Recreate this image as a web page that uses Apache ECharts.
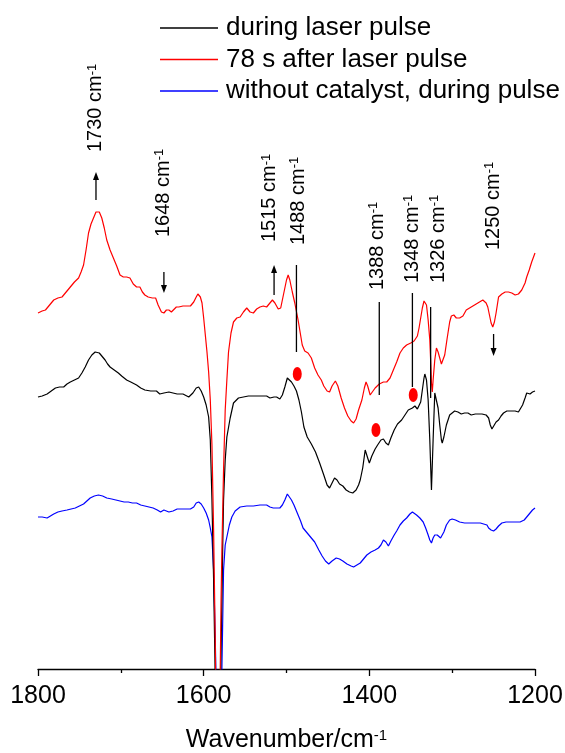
<!DOCTYPE html>
<html>
<head>
<meta charset="utf-8">
<script src="https://cdn.jsdelivr.net/npm/echarts@6/dist/echarts.min.js"></script>
<style>
  html, body { margin: 0; padding: 0; background: #fff; }
  #chart { width: 565px; height: 753px; }
</style>
</head>
<body>
<div id="chart"></div>
<script>
// Difference IR spectra: [wavenumber (cm-1), absorbance change (arb. units)]
const duringPulse = [
  [1800,2],[1795,3],[1789,5],[1784,8],[1779,11],[1774,12],[1769,12],[1765,15],[1761,17],[1756,19],
  [1751,21],[1747,26],[1743,32],[1739,39],[1735,44],[1731,47],[1729,48],[1726,46],[1723,43],[1719,39],
  [1716,35],[1713,32],[1708,29],[1703,26],[1699,23],[1693,19],[1688,17],[1681,14],[1676,11],[1671,9],
  [1664,8],[1657,8],[1653,5],[1648,6],[1642,7],[1637,6],[1632,5],[1625,5],[1618,2],[1613,6],
  [1609,11],[1606,12],[1603,8],[1600,2],[1597,-6],[1594,-18],[1592,-41],[1590,-101],[1588,-181],[1586,-281],
  [1583,-451],[1581,-361],[1580,-301],[1578,-201],[1577,-148],[1576,-101],[1574,-61],[1572,-38],[1568,-19],[1564,-4],
  [1558,1],[1552,2],[1546,3],[1540,3],[1532,3],[1524,3],[1520,1],[1518,1],[1515,2],[1512,2],
  [1510,0],[1508,0],[1505,4],[1502,12],[1499,21],[1497,22],[1494,17],[1491,13],[1488,8],[1485,-1],
  [1482,-13],[1479,-28],[1475,-38],[1470,-45],[1465,-53],[1460,-64],[1455,-76],[1451,-86],[1448,-89],[1445,-84],
  [1442,-79],[1439,-81],[1436,-85],[1432,-87],[1428,-91],[1424,-93],[1420,-94],[1416,-91],[1413,-86],[1411,-81],
  [1408,-69],[1405,-51],[1402,-59],[1400,-64],[1397,-57],[1393,-50],[1390,-46],[1386,-41],[1383,-40],[1380,-44],
  [1377,-46],[1374,-39],[1370,-31],[1366,-25],[1361,-21],[1357,-16],[1353,-11],[1351,-10],[1348,-9],[1345,-7],
  [1342,-10],[1340,-11],[1338,-3],[1336,9],[1334,21],[1333,25],[1331,19],[1329,-1],[1327,-41],[1325,-91],
  [1323,-41],[1321,6],[1319,4],[1317,-9],[1315,-26],[1313,-41],[1312,-44],[1310,-38],[1307,-26],[1303,-16],
  [1300,-14],[1297,-12],[1293,-13],[1289,-15],[1285,-14],[1281,-14],[1277,-16],[1272,-15],[1268,-15],[1264,-15],
  [1259,-16],[1256,-19],[1254,-26],[1252,-30],[1250,-29],[1247,-23],[1244,-21],[1241,-17],[1238,-14],[1234,-12],
  [1228,-12],[1224,-12],[1220,-13],[1218,-12],[1215,-6],[1212,1],[1210,6],[1208,5],[1206,5],[1203,7],[1200,8]
];

const afterPulse78s = [
  [1800,-4],[1795,-2],[1791,-1],[1786,4],[1781,9],[1776,11],[1771,12],[1766,17],[1761,22],[1756,27],
  [1751,31],[1748,37],[1745,44],[1742,59],[1739,76],[1736,85],[1733,91],[1730,97],[1728,99],[1726,97],
  [1723,91],[1720,81],[1717,69],[1713,59],[1709,51],[1705,43],[1701,34],[1697,32],[1693,32],[1689,31],
  [1685,25],[1681,22],[1677,22],[1674,17],[1671,14],[1667,12],[1662,11],[1658,11],[1655,4],[1651,-3],
  [1648,-4],[1645,-1],[1642,-1],[1639,-3],[1637,-1],[1633,2],[1630,2],[1625,3],[1616,3],[1612,7],
  [1609,12],[1607,15],[1604,12],[1602,6],[1600,-9],[1598,-26],[1596,-43],[1594,-63],[1592,-91],[1590,-136],
  [1588,-221],[1586,-331],[1584,-491],[1583,-541],[1581,-451],[1580,-361],[1579,-291],[1578,-241],[1576,-161],[1574,-101],
  [1572,-71],[1570,-43],[1567,-24],[1564,-13],[1560,-9],[1556,-8],[1552,-3],[1548,1],[1544,-3],[1540,-4],
  [1536,0],[1532,2],[1528,3],[1524,2],[1520,6],[1517,9],[1514,6],[1510,0],[1507,1],[1503,17],
  [1500,29],[1498,34],[1496,29],[1493,17],[1490,6],[1486,-11],[1484,-21],[1481,-36],[1478,-42],[1474,-44],
  [1470,-49],[1466,-59],[1462,-66],[1458,-71],[1455,-77],[1451,-82],[1448,-83],[1445,-77],[1441,-72],[1438,-77],
  [1434,-89],[1430,-99],[1426,-107],[1422,-112],[1419,-114],[1416,-110],[1413,-101],[1409,-91],[1406,-79],[1404,-73],
  [1402,-77],[1399,-86],[1397,-84],[1393,-79],[1388,-75],[1383,-73],[1379,-73],[1375,-69],[1371,-61],[1367,-53],
  [1363,-44],[1359,-39],[1355,-36],[1350,-34],[1346,-32],[1342,-27],[1340,-19],[1338,-9],[1336,1],[1334,8],
  [1332,9],[1331,4],[1329,-11],[1327,-31],[1326,-51],[1325,-74],[1324,-83],[1323,-71],[1321,-51],[1319,-39],
  [1317,-43],[1315,-49],[1313,-55],[1311,-55],[1309,-46],[1306,-29],[1303,-13],[1301,-7],[1298,-6],[1295,-9],
  [1291,-9],[1287,-7],[1283,-1],[1279,1],[1275,3],[1271,5],[1267,7],[1263,9],[1261,9],[1259,6],
  [1257,2],[1255,-6],[1253,-14],[1251,-18],[1249,-13],[1247,-4],[1244,12],[1240,15],[1236,17],[1232,17],
  [1228,16],[1224,14],[1220,15],[1216,19],[1212,26],[1210,32],[1207,39],[1204,47],[1200,56]
];

const noCatalyst = [
  [1800,2],[1795,2],[1789,1],[1785,3],[1781,5],[1776,7],[1771,8],[1765,9],[1760,10],[1755,11],
  [1750,13],[1745,15],[1741,18],[1737,21],[1732,23],[1727,24],[1722,23],[1717,21],[1711,20],[1706,19],
  [1701,18],[1696,17],[1691,17],[1686,16],[1681,16],[1676,14],[1671,13],[1666,12],[1661,11],[1656,9],
  [1652,7],[1648,9],[1645,8],[1642,7],[1637,8],[1632,10],[1627,10],[1621,10],[1616,10],[1612,12],
  [1609,16],[1606,17],[1603,15],[1600,11],[1597,6],[1594,-1],[1592,-9],[1590,-18],[1588,-51],[1586,-121],
  [1584,-201],[1581,-281],[1579,-201],[1578,-150],[1577,-101],[1576,-51],[1574,-26],[1572,-18],[1569,-6],[1566,2],
  [1562,8],[1556,12],[1548,13],[1540,13],[1532,14],[1524,14],[1520,12],[1516,11],[1512,11],[1508,11],
  [1505,14],[1502,19],[1499,25],[1497,24],[1494,19],[1491,14],[1487,6],[1483,-2],[1480,-9],[1475,-14],
  [1470,-19],[1466,-23],[1461,-31],[1457,-37],[1453,-42],[1449,-45],[1445,-42],[1440,-39],[1436,-40],[1432,-42],
  [1427,-45],[1422,-47],[1419,-48],[1415,-46],[1411,-44],[1407,-40],[1403,-36],[1398,-33],[1393,-31],[1389,-29],
  [1386,-26],[1383,-21],[1380,-23],[1377,-27],[1374,-22],[1370,-16],[1367,-12],[1363,-6],[1359,-2],[1355,1],
  [1351,5],[1348,7],[1346,6],[1343,4],[1339,1],[1335,-3],[1332,-9],[1329,-16],[1327,-21],[1325,-24],
  [1323,-19],[1321,-16],[1318,-16],[1316,-18],[1314,-19],[1312,-18],[1310,-13],[1307,-6],[1303,-1],[1300,0],
  [1296,-1],[1291,-3],[1285,-4],[1278,-4],[1272,-4],[1266,-4],[1262,-5],[1258,-6],[1256,-9],[1253,-11],
  [1250,-12],[1247,-10],[1244,-7],[1240,-4],[1235,-3],[1228,-3],[1222,-3],[1218,-3],[1213,-1],[1210,2],
  [1206,6],[1203,9],[1200,11]
];

// Vertical offsets used to stack the three spectra
const stackOffset = { after: 360, during: 270, without: 150 };

// Marked bands (red dots) on the stacked plot
const dotWn = [1487, 1392, 1347];
const dotY = [295, 239, 274];

// Band annotations
const bandWn = [1730, 1648, 1515, 1488, 1388, 1348, 1326, 1250];
const bandKind = ['up', 'down', 'up', 'line', 'line', 'line', 'line', 'down'];
const bandFrom = [469, 397, 374, 404, 367, 376, 362, 335];
const bandTo = [497, 376, 404, 317, 274, 282, 271, 313];
const bandTextWn = [1730, 1648, 1520, 1486, 1390, 1348, 1317, 1250];
const bandTextY = [517, 432, 427, 424, 379, 386, 386, 419];

const xTicks = { min: 1200, max: 1800, step: 200 };

const FONT = 'Liberation Sans, Arial, Helvetica, sans-serif';

function shift(trace, dy) {
  return trace.map(p => [p[0], p[1] + dy]);
}

const chart = echarts.init(document.getElementById('chart'), null, { renderer: 'canvas' });

const lineBase = {
  type: 'line',
  symbol: 'none',
  smooth: false,
  animation: false,
  clip: true,
  z: 2
};

const bandData = bandWn.map((w, i) => [w, bandFrom[i], bandTo[i], bandTextWn[i], bandTextY[i], i]);

const legendNames = ['during laser pulse', '78 s after laser pulse', 'without catalyst, during pulse'];

const option = {
  animation: false,
  backgroundColor: '#ffffff',
  grid: { left: 38, right: 30, top: 69, bottom: 84, containLabel: false, outerBoundsMode: 'none' },
  legend: {
    orient: 'vertical',
    left: 160,
    top: 14,
    padding: 0,
    itemWidth: 58,
    itemHeight: 1.3,
    itemGap: 3.5,
    icon: 'rect',
    data: legendNames.map(n => ({ name: n, icon: 'rect' })),
    textStyle: { fontFamily: FONT, fontSize: 26, color: '#000', lineHeight: 28, padding: [0, 0, 0, 3] },
    selectedMode: false
  },
  xAxis: {
    type: 'value',
    inverse: true,
    min: xTicks.min,
    max: xTicks.max,
    interval: xTicks.step,
    splitLine: { show: false },
    axisLine: { show: true, onZero: false, lineStyle: { color: '#000', width: 1.3 } },
    axisTick: { show: true, length: 7, lineStyle: { color: '#000', width: 1.3 } },
    minorTick: { show: true, splitNumber: 2, length: 4, lineStyle: { color: '#000', width: 1.3 } },
    axisLabel: {
      fontFamily: FONT, fontSize: 25, color: '#000', margin: 15,
      formatter: v => String(v)
    },
    name: 'Wavenumber/cm{s|-1}',
    nameLocation: 'middle',
    nameGap: 59,
    nameTextStyle: {
      fontFamily: FONT, fontSize: 25, color: '#000',
      rich: { s: { fontFamily: FONT, fontSize: 15, color: '#000', verticalAlign: 'top', lineHeight: 15 } }
    }
  },
  yAxis: {
    type: 'value',
    show: false,
    min: 0,
    max: 600
  },
  series: [
    Object.assign({}, lineBase, {
      name: 'without catalyst, during pulse',
      data: shift(noCatalyst, stackOffset.without),
      lineStyle: { color: '#0000ff', width: 1.2 },
      itemStyle: { color: '#0000ff' }
    }),
    Object.assign({}, lineBase, {
      name: 'during laser pulse',
      data: shift(duringPulse, stackOffset.during),
      lineStyle: { color: '#000000', width: 1.2 },
      itemStyle: { color: '#000000' }
    }),
    Object.assign({}, lineBase, {
      name: '78 s after laser pulse',
      data: shift(afterPulse78s, stackOffset.after),
      lineStyle: { color: '#ff0000', width: 1.2 },
      itemStyle: { color: '#ff0000' }
    }),
    {
      type: 'scatter',
      name: 'marked bands',
      data: dotWn.map((w, i) => [w, dotY[i]]),
      symbol: 'circle',
      symbolSize: [9, 14],
      itemStyle: { color: '#ff0000', opacity: 1 },
      z: 4,
      animation: false
    },
    {
      type: 'custom',
      name: 'band labels',
      data: bandData,
      clip: false,
      z: 5,
      animation: false,
      renderItem: function (params, api) {
        const i = api.value(5);
        const p1 = api.coord([api.value(0), api.value(1)]);
        const p2 = api.coord([api.value(0), api.value(2)]);
        const t = api.coord([api.value(3), api.value(4)]);
        const kind = bandKind[i];
        const children = [];
        const head = 8;
        const half = 3;
        if (kind === 'line') {
          children.push({
            type: 'line',
            shape: { x1: p1[0], y1: p1[1], x2: p2[0], y2: p2[1] },
            style: { stroke: '#000', lineWidth: 1.3 }
          });
        } else {
          const dir = p2[1] < p1[1] ? -1 : 1;
          children.push({
            type: 'line',
            shape: { x1: p1[0], y1: p1[1], x2: p2[0], y2: p2[1] - dir * head * 0.6 },
            style: { stroke: '#000', lineWidth: 1.3 }
          });
          children.push({
            type: 'polygon',
            shape: { points: [[p2[0], p2[1]], [p2[0] - half, p2[1] - dir * head], [p2[0] + half, p2[1] - dir * head]] },
            style: { fill: '#000' }
          });
        }
        children.push({
          type: 'text',
          x: t[0],
          y: t[1],
          rotation: Math.PI / 2,
          style: {
            text: '{n|' + bandWn[i] + ' cm}{s|-1}',
            align: 'left',
            verticalAlign: 'middle',
            fill: '#000',
            rich: {
              n: { fontFamily: FONT, fontSize: 20, lineHeight: 21, fill: '#000' },
              s: { fontFamily: FONT, fontSize: 13, lineHeight: 13, verticalAlign: 'top', fill: '#000' }
            }
          }
        });
        return { type: 'group', children: children };
      }
    }
  ]
};

chart.setOption(option);
</script>
</body>
</html>
